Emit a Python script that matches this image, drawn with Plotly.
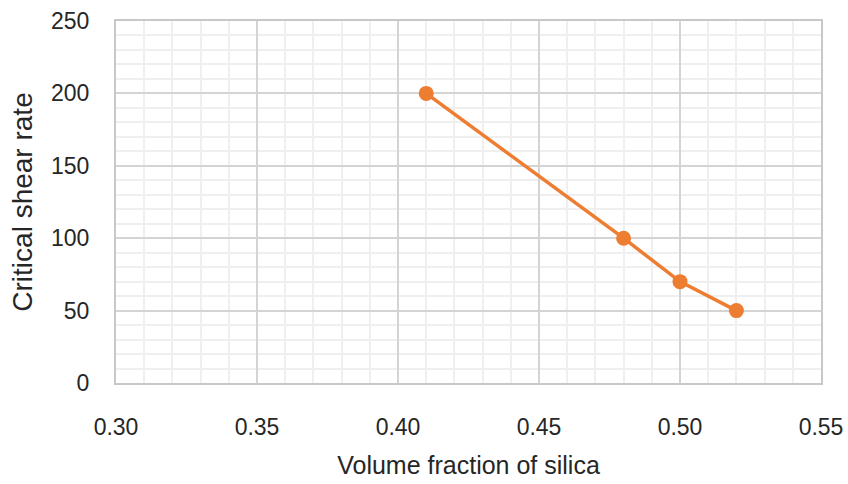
import plotly.graph_objects as go

x_vals = [0.41, 0.48, 0.50, 0.52]
y_vals = [200, 100, 70, 50]
x_ticks = [0.30, 0.35, 0.40, 0.45, 0.50, 0.55]
y_ticks = [0, 50, 100, 150, 200, 250]

color = "#ED7D31"
font_family = "Liberation Sans, Arial, sans-serif"
text_color = "#262626"

fig = go.Figure()
fig.add_trace(go.Scatter(
    x=x_vals, y=y_vals, mode="lines+markers",
    line=dict(color=color, width=3.5),
    marker=dict(color=color, size=15),
    showlegend=False,
))

fig.update_layout(
    width=848, height=484,
    margin=dict(l=116, r=27, t=21, b=101),
    paper_bgcolor="white", plot_bgcolor="white",
    font=dict(family=font_family, color=text_color),
)
fig.update_xaxes(
    range=[0.30, 0.55], tickvals=x_ticks, ticktext=[f"{v:.2f}" for v in x_ticks],
    tickfont=dict(size=23, color=text_color), ticks="", ticklabelstandoff=22,
    showgrid=True, gridcolor="#d4d4d4", gridwidth=1.5,
    minor=dict(dtick=0.01, showgrid=True, gridcolor="#efefef", gridwidth=1.5),
    showline=True, linecolor="#c8c8c8", linewidth=2, mirror=True,
    zeroline=False, automargin=False,
    title=dict(text="Volume fraction of silica", font=dict(size=25, color=text_color), standoff=18),
)
fig.update_yaxes(
    range=[0, 250], tickvals=y_ticks,
    tickfont=dict(size=23, color=text_color), ticks="", ticklabelstandoff=20,
    showgrid=True, gridcolor="#d4d4d4", gridwidth=1.5,
    minor=dict(dtick=10, showgrid=True, gridcolor="#efefef", gridwidth=1.5),
    showline=True, linecolor="#c8c8c8", linewidth=2, mirror=True,
    zeroline=False, automargin=False,
    title=dict(text="Critical shear rate", font=dict(size=28, color=text_color), standoff=10),
)

fig.write_html("out.html")
